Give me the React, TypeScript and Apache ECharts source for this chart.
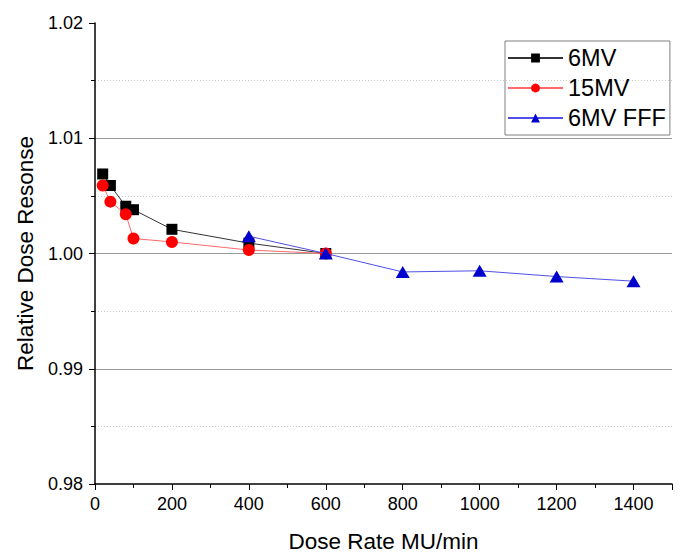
import React, { useEffect, useRef } from "react";
import * as echarts from "echarts";

const doseRates6MV = [20, 40, 80, 100, 200, 400, 600];
const response6MV = [1.0069, 1.0059, 1.0041, 1.0038, 1.0021, 1.0009, 1.0];
const doseRates15MV = [20, 40, 80, 100, 200, 400, 600];
const response15MV = [1.0059, 1.0045, 1.0034, 1.0013, 1.001, 1.0003, 1.0];
const doseRatesFFF = [400, 600, 800, 1000, 1200, 1400];
const responseFFF = [1.0015, 1.0, 0.9984, 0.9985, 0.998, 0.9976];

const FONT = "Liberation Sans, Arial, sans-serif";

export default function App() {
  const ref = useRef<HTMLDivElement>(null);
  useEffect(() => {
    if (!ref.current) return;
    const chart = echarts.init(ref.current, undefined, { renderer: "svg" });
    const zip = (xs: number[], ys: number[]) => xs.map((x, i) => [x, ys[i]]);
    chart.setOption({
      animation: false,
      backgroundColor: "#fff",
      textStyle: { fontFamily: FONT },
      grid: { left: 95, right: 9, top: 23, bottom: 71 },
      legend: {
        left: 505,
        top: 41,
        orient: "vertical",
        borderColor: "#808080",
        borderWidth: 1,
        padding: [5, 4, 5, 2],
        itemWidth: 55,
        itemHeight: 11,
        itemGap: 6,
        textStyle: { fontSize: 23.5, color: "#000", fontFamily: FONT },
        data: ["6MV", "15MV", "6MV FFF"],
      },
      xAxis: {
        type: "value",
        min: 0,
        max: 1500,
        interval: 200,
        name: "Dose Rate MU/min",
        nameLocation: "middle",
        nameGap: 46,
        nameTextStyle: { fontSize: 22.5, color: "#000", fontFamily: FONT },
        axisLine: { show: true, onZero: false, lineStyle: { color: "#000", width: 1.5 } },
        axisTick: { show: true, length: 6, lineStyle: { color: "#000" } },
        minorTick: { show: true, splitNumber: 2, length: 4, lineStyle: { color: "#000" } },
        axisLabel: {
          fontSize: 18,
          color: "#000",
          margin: 11,
          fontFamily: FONT,
          formatter: (v: number) => String(v),
        },
        splitLine: { show: false },
      },
      yAxis: {
        type: "value",
        min: 0.98,
        max: 1.02,
        interval: 0.01,
        name: "Relative Dose Resonse",
        nameLocation: "middle",
        nameGap: 56,
        nameTextStyle: { fontSize: 22.5, color: "#000", fontFamily: FONT },
        axisLine: { show: true, onZero: false, lineStyle: { color: "#000", width: 1.5 } },
        axisTick: { show: true, length: 6, lineStyle: { color: "#000" } },
        minorTick: { show: true, splitNumber: 2, length: 4, lineStyle: { color: "#000" } },
        axisLabel: {
          fontSize: 18,
          color: "#000",
          margin: 12,
          fontFamily: FONT,
          formatter: (v: number) => v.toFixed(2),
        },
        splitLine: {
          show: true,
          lineStyle: {
            color: ["transparent", "#9a9a9a", "#9a9a9a", "#9a9a9a", "transparent"],
            width: 1,
          },
        },
        minorSplitLine: {
          show: true,
          lineStyle: { color: "#c8c8c8", type: [1, 2], width: 1 },
        },
      },
      series: [
        {
          name: "6MV",
          type: "line",
          data: zip(doseRates6MV, response6MV),
          symbol: "rect",
          symbolSize: 11,
          itemStyle: { color: "#000" },
          lineStyle: { color: "#333", width: 1 },
          z: 3,
        },
        {
          name: "15MV",
          type: "line",
          data: zip(doseRates15MV, response15MV),
          symbol: "circle",
          symbolSize: 12,
          itemStyle: { color: "#ff0000" },
          lineStyle: { color: "#ff6a6a", width: 1 },
          z: 4,
        },
        {
          name: "6MV FFF",
          type: "line",
          data: zip(doseRatesFFF, responseFFF),
          symbol: "triangle",
          symbolSize: [14, 12],
          itemStyle: { color: "#0000cc" },
          lineStyle: { color: "#5050e6", width: 1 },
          z: 5,
        },
      ],
    });
    return () => chart.dispose();
  }, []);
  return (
    <div
      ref={ref}
      style={{ position: "absolute", left: 0, top: 0, width: 681, height: 558 }}
    />
  );
}
